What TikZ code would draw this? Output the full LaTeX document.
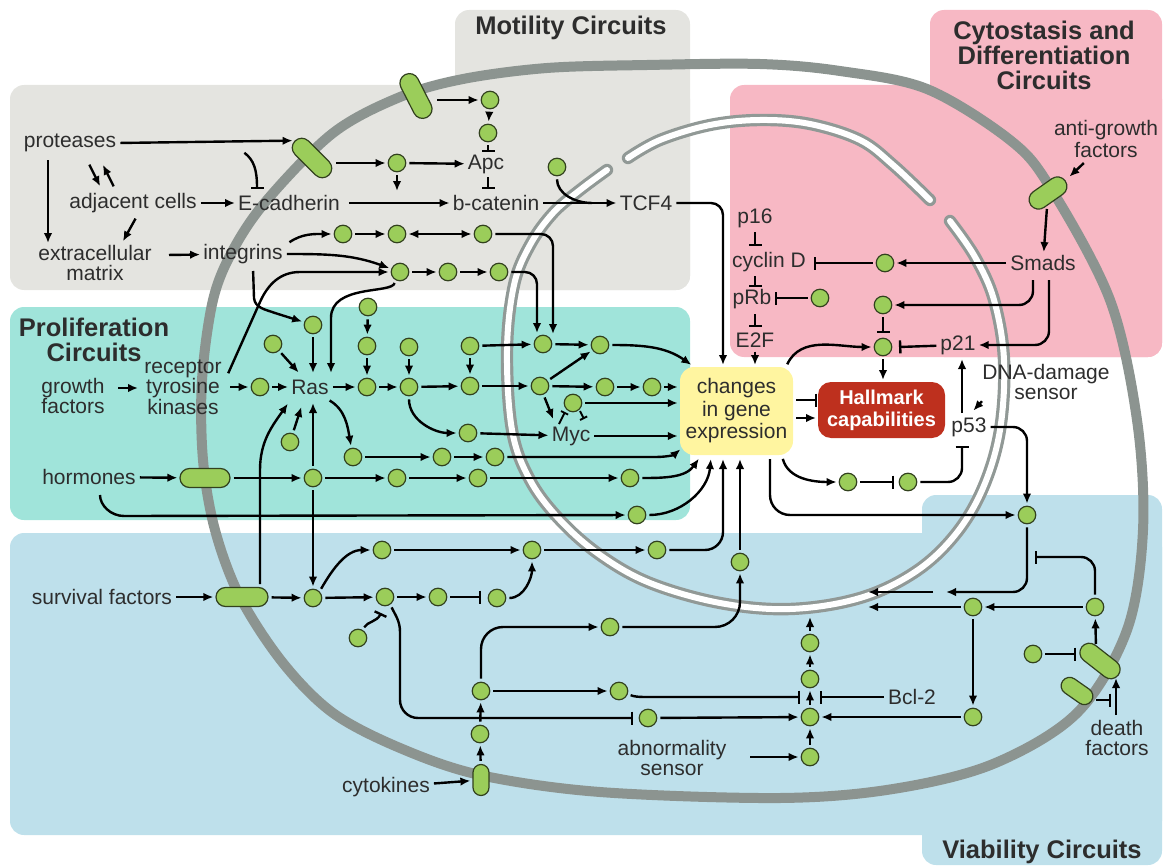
\documentclass[tikz,border=0pt]{standalone}
\usepackage{fontspec}
\setmainfont{Liberation Sans}
\usetikzlibrary{arrows.meta,calc}
\definecolor{bggray}{RGB}{228,228,224}
\definecolor{bgpink}{RGB}{247,184,196}
\definecolor{bgteal}{RGB}{160,228,218}
\definecolor{bgblue}{RGB}{190,224,235}
\definecolor{boxyel}{RGB}{255,245,160}
\definecolor{hallred}{RGB}{190,48,30}
\definecolor{memgray}{RGB}{140,148,144}
\definecolor{nucgray}{RGB}{145,153,150}
\definecolor{gfill}{RGB}{155,205,90}
\definecolor{gline}{RGB}{50,65,30}
\definecolor{txt}{RGB}{45,45,45}
\tikzset{
  gnode/.style={circle,fill=gfill,draw=gline,line width=1.2pt,minimum size=17.5pt,inner sep=0pt},
  capsule/.style={rectangle,fill=gfill,draw=gline,line width=1.2pt,inner sep=0pt},
  lbl/.style={text=txt,font=\fontsize{21}{19.5}\selectfont,inner sep=1pt,align=center},
  ttl/.style={text=txt,font=\fontsize{25.5}{25}\selectfont\bfseries,align=center,inner sep=0pt},
  arr/.style={draw=black,line width=2.4pt,-{Latex[length=10pt,width=8.5pt]},shorten >=2pt,shorten <=3pt},
  inhib/.style={draw=black,line width=2.4pt,-{Bar[width=13pt]},shorten <=3pt},
  inhs/.style={draw=black,line width=1.8pt,-{Bar[width=8pt]}},
  plain/.style={draw=black,line width=2.4pt,shorten <=3pt},
}
\begin{document}
\begin{tikzpicture}[x=1pt,y=-1pt]
\useasboundingbox (0,0) rectangle (1163,867);
% ---------- backgrounds
\fill[bggray,rounded corners=14pt] (10,85) rectangle (690,290);
\fill[bggray,rounded corners=14pt] (455,10) rectangle (690,290);
\fill[bgpink,rounded corners=14pt] (730,85) rectangle (1162,357);
\fill[bgpink,rounded corners=14pt] (930,10) rectangle (1162,357);
\fill[bgteal,rounded corners=14pt] (10,307) rectangle (690,520);
\fill[bgblue,rounded corners=14pt] (10,533) rectangle (1162,835);
\fill[bgblue,rounded corners=14pt] (922,495) rectangle (1162,865);
% ---------- cell membrane
\draw[memgray,line width=10pt] plot[smooth cycle,tension=0.55] coordinates {
 (213,300) (202,380) (203,460) (215,530) (240,597) (283,663) (333,713) (400,748)
 (480,775) (600,792) (780,798) (893,789) (993,764) (1077,713) (1127,630) (1143,530)
 (1137,420) (1110,300) (1050,187) (1010,140) (927,89) (840,71) (760,64) (647,65)
 (547,68) (463,79) (400,97) (333,133) (267,200) (233,250)};
% ---------- nucleus
\tikzset{nuc/.style={draw=nucgray,double=white,double distance=6pt,line width=3.2pt,line cap=round}}
\draw[nuc] plot[smooth,tension=0.6] coordinates {(628,158) (660,140) (710,125) (760,120) (810,124) (860,140) (893,165) (930,200)};
\draw[nuc] plot[smooth,tension=0.6] coordinates {(607,170) (580,190) (553,213) (530,245) (514,285) (507,350) (512,430) (530,480) (560,520) (600,555) (650,583) (720,603) (790,609) (860,598) (915,572) (955,535) (983,488) (1000,430) (1004,360) (994,300) (975,257) (950,221)};
% ---------- titles
\node[ttl] (tmot) at (571,28) {Motility Circuits};
\node[ttl] (tcyt) at (1044,55) {Cytostasis and\\Differentiation\\Circuits};
\node[ttl] (tpro) at (94,340) {Proliferation\\Circuits};
\node[ttl] (tvia) at (1042,852) {Viability Circuits};
% ---------- labels
\node[lbl] (prot) at (70,143) {proteases};
\node[lbl] (adj) at (133,203) {adjacent cells};
\node[lbl] (ecad) at (289,203) {E-cadherin};
\node[lbl] (ecm) at (95,263) {extracellular\\matrix};
\node[lbl] (integ) at (243,254) {integrins};
\node[lbl] (bcat) at (496,203) {b-catenin};
\node[lbl] (apc) at (486,164) {Apc};
\node[lbl] (tcf) at (646,203) {TCF4};
\node[lbl] (gf) at (73,396) {growth\\factors};
\node[lbl] (rtk) at (183,387) {receptor\\tyrosine\\kinases};
\node[lbl] (ras) at (310,387) {Ras};
\node[lbl] (myc) at (571,436) {Myc};
\node[lbl] (horm) at (89,477) {hormones};
\node[lbl,font=\fontsize{21}{22}\selectfont] (anti) at (1106,139) {anti-growth\\factors};
\node[lbl] (smads) at (1043,263) {Smads};
\node[lbl] (p16) at (755,218) {p16};
\node[lbl,anchor=west] (cycd) at (731,262) {cyclin D};
\node[lbl] (prb) at (752,299) {pRb};
\node[lbl] (e2f) at (755,340) {E2F};
\node[lbl] (p21) at (958,345) {p21};
\node[lbl] (p53) at (969,427) {p53};
\node[lbl] (dna) at (1046,382) {DNA-damage\\sensor};
\node[lbl] (surv) at (102,597) {survival factors};
\node[lbl] (cytok) at (386,787) {cytokines};
\node[lbl] (abn) at (672,758) {abnormality\\sensor};
\node[lbl] (bcl) at (912,697) {Bcl-2};
\node[lbl] (death) at (1117,738) {death\\factors};
% ---------- boxes
\node[fill=boxyel,rounded corners=14pt,minimum width=113pt,minimum height=88pt,text=txt,font=\fontsize{21}{22.5}\selectfont,align=center,inner sep=0pt] (box) at (736.5,411) {changes\\in gene\\expression};
\node[fill=hallred,rounded corners=13pt,minimum width=127pt,minimum height=56pt,text=white,font=\fontsize{20}{22}\selectfont\bfseries,align=center,inner sep=0pt] (hall) at (881.5,410) {Hallmark\\capabilities};
% ---------- capsules
\node[capsule,minimum width=48pt,minimum height=19pt,rounded corners=9.5pt,rotate=-45] (cap1) at (312,158) {};
\node[capsule,minimum width=48pt,minimum height=19pt,rounded corners=9.5pt,rotate=-63] (cap2) at (416,96) {};
\node[capsule,minimum width=50pt,minimum height=19pt,rounded corners=9.5pt] (cap3) at (205,478) {};
\node[capsule,minimum width=52pt,minimum height=19pt,rounded corners=9.5pt] (cap4) at (242,597) {};
\node[capsule,minimum width=42pt,minimum height=19pt,rounded corners=9.5pt,rotate=35] (cap5) at (1048,193) {};
\node[capsule,minimum width=16pt,minimum height=31pt,rounded corners=8pt] (cap6) at (481,780) {};
\node[capsule,minimum width=46pt,minimum height=19pt,rounded corners=9.5pt,rotate=-38] (cap7) at (1100,661) {};
\node[capsule,minimum width=35pt,minimum height=17pt,rounded corners=8.5pt,rotate=-35] (cap8) at (1077,691) {};
% ---------- green nodes
\foreach \n/\x/\y in {m1/490/100, m2/488/133, m3/397/163, m4/557/167, m5/343/234, m6/397/234, m7/483/234, m8/400/272, m9/448/272, m10/499/272,
 p1/313/325, p2/273/344, p3/260/387, p4/368/307, p5/367/346, p6/367/387, p7/409/347, p8/409/387, p9/470/346, p10/470/386, p11/543/344, p12/600/345, p13/540/386, p14/605/387, p15/652/387, p16n/573/403, p17/468/433, p18/290/442, p19/353/457, p20/442/457, p21n/495/457, p22/313/478, p23/397/478, p24/478/478, p25/630/478, p26/637/515,
 v1/313/598, v2/382/550, v3/532/550, v4/657/550, v5/385/597, v6/438/597, v7/497/598, v8/358/638, v9/610/627, v10/740/562, v11/481/691, v12/480/734, v13/619/691, v14/648/718, c1/810/643, c2/810/679, c3/810/717, c4/810/757, v15/973/607, v16/973/717, v17/1095/607, v18/1033/654, v19/1027/515, v20/848/482, v21/908/482,
 k1/885/263, k2/820/298, k3/883/305, k4/883/347}
 \node[gnode] (\n) at (\x,\y) {};
% ---------- motility connectors
\draw[arr] (prot.east) -- (cap1.west);
\draw[inhib] (242,151) .. controls (254,160) and (257,170) .. (257,189);
\draw[arr] (88,162) -- (101,188);
\draw[arr] (115,189) -- (102,163);
\draw[arr] (48,157) -- (48,245);
\draw[arr] (adj) -- (ecad);
\draw[arr] (137,216) -- (122,243);
\draw[arr] (166,255) -- (integ);
\draw[arr,shorten <=8pt] (ecad) -- (bcat);
\draw[arr] (434,100) -- (m1);
\draw[arr] (m1) -- (m2);
\draw[inhib] (m2) -- (488,152);
\draw[inhib] (488,174) -- (488,189);
\draw[arr] (333,163) -- (m3);
\draw[arr] (m3) -- (apc);
\draw[arr] (m3) -- (397,193);
\draw[plain] (m4) to[out=-90,in=180] (592,203);
\draw[arr] (bcat) -- (tcf);
\draw[arr,rounded corners=12pt] (tcf) -| (723,367);
\draw[arr] (287,244) to[out=35,in=180] (m5);
\draw[arr] (m5) -- (m6);
\draw[draw=black,line width=2.4pt,{Latex[length=10pt,width=8.5pt]}-{Latex[length=10pt,width=8.5pt]},shorten >=2pt,shorten <=2pt] (m6) -- (m7);
\draw[arr,rounded corners=12pt] (m7) -| (553,336);
\draw[arr,rounded corners=12pt] (m10) -| (537,335);
\draw[arr] (integ.east) to[out=0,in=160] (m8);
\draw[arr] (227,376) -- (260,302) to[out=66,in=180] (300,272) -- (m8);
\draw[arr] (m8) -- (m9);
\draw[arr] (m9) -- (m10);
\draw[arr] (m8.-120) .. controls (392,294) and (331,284) .. (331,318) -- (331,375);
\draw[arr] (253,268) -- (254,298) to[out=-85,in=160] (275,313) -- (p1);
% ---------- proliferation connectors
\draw[arr] (115,388) -- (140,388);
\draw[arr] (227,387) -- (p3);
\draw[arr] (p3) -- (ras);
\draw[arr] (p1) -- (313,375);
\draw[arr] (p2) -- (300,374);
\draw[arr] (ras) -- (p6);
\draw[arr] (p4) -- (p5);
\draw[arr] (p5) -- (p6);
\draw[arr] (p6) -- (p8);
\draw[arr] (p7) -- (p8);
\draw[arr] (p8) -- (p10);
\draw[arr] (p9) -- (p10);
\draw[arr] (p9) -- (p11);
\draw[arr] (p10) -- (p13);
\draw[arr] (p11) -- (p12);
\draw[arr] (p12) to[out=0,in=145] (693,366);
\draw[arr] (p13) -- (p12);
\draw[arr] (p13) -- (p14);
\draw[arr] (p14) -- (p15);
\draw[arr] (p15) -- (box.west |- p15);
\draw[arr] (p13) -- (554,421);
\draw[arr] (p16n) -- (box.west |- p16n);
\draw[inhs] (559,424) -- (565,412);
\draw[inhs] (580,411) -- (584,419);
\draw[arr] (p17) -- (myc);
\draw[arr] (myc) -- (box.west |- myc);
\draw[arr] (p8) to[out=-90,in=180] (p17);
\draw[arr] (327,399) to[out=-30,in=100] (p19);
\draw[arr] (p19) -- (p20);
\draw[arr] (p20) -- (p21n);
\draw[arr] (p21n) -- (655,457) to[out=0,in=-140] (682,448);
\draw[arr] (p18) -- (302,405);
\draw[arr] (260,587) -- (260,470) to[out=90,in=-125] (289,402);
\draw[arr] (p22) -- (313,401);
\draw[arr] (horm) -- (cap3);
\draw[arr] (cap3) -- (p22);
\draw[arr] (p22) -- (v1);
\draw[arr] (p22) -- (p23);
\draw[arr] (p23) -- (p24);
\draw[arr] (p24) -- (p25);
\draw[arr] (p25) to[out=0,in=-125] (700,457);
\draw[arr] (100,492) to[out=-90,in=180] (124,516) -- (p26);
\draw[arr] (p26) to[out=0,in=-95] (711,457);
\draw[arr,rounded corners=18pt] (v4) -| (723,457);
\draw[arr] (v10) -- (740,457);
% ---------- cytostasis connectors
\draw[arr] (e2f) -- (755,367);
\draw[inhib] (755,229) -- (755,246);
\draw[inhib] (755,273) -- (755,287);
\draw[inhib] (755,311) -- (755,327);
\draw[inhib] (k2) -- (775,298);
\draw[inhib] (k1) -- (814,263);
\draw[arr] (smads) -- (k1);
\draw[arr] (cap5) -- (smads);
\draw[arr] (1086,161) -- (1068,178);
\draw[arr,rounded corners=14pt] (1033,277) |- (k3);
\draw[arr,rounded corners=14pt] (1049,277) |- (p21);
\draw[inhib] (p21) -- (899,347);
\draw[inhib] (k3) -- (883,333);
\draw[arr] (k4) -- (883,382);
\draw[arr] (786,367) to[out=65,in=180] (k4);
\draw[inhib] (793,400) -- (817,400);
\draw[arr] (793,418) -- (818,418);
\draw[arr] (962,416) -- (962,357);
\draw[arr] (984,399) -- (972,412);
\draw[inhib,rounded corners=14pt] (v21) -| (962,446);
\draw[inhib] (v20) -- (894,482);
\draw[arr] (782,456) to[out=-75,in=180] (v20);
\draw[arr,rounded corners=14pt] (p53) -| (v19);
\draw[arr,rounded corners=20pt] (770,456) |- (v19);
% ---------- viability connectors
\draw[arr] (surv) -- (cap4);
\draw[arr] (cap4) -- (v1);
\draw[arr] (v1) -- (v5);
\draw[arr] (v1.north east) to[out=60,in=180] (v2);
\draw[arr] (v2) -- (v3);
\draw[arr] (v3) -- (v4);
\draw[arr] (v5) -- (v6);
\draw[inhib] (v6) -- (481,597);
\draw[arr] (v7) to[out=0,in=-90] (v3);
\draw[inhib] (v8) to[out=60,in=-115] (381,613);
\draw[inhib] (v5.-55) to[out=-65,in=90] (400,632) -- (400,700) to[out=-90,in=180] (418,718) -- (633,718);
\draw[arr] (v14) -- (c3);
\draw[arr] (cytok) -- (cap6);
\draw[arr] (cap6) -- (v12);
\draw[arr] (v12) -- (v11);
\draw[arr] (v11) -- (v13);
\draw[arr,rounded corners=22pt] (v11) |- (v9);
\draw[arr,rounded corners=25pt] (v9) -| (v10);
\draw[inhib] (v13.-20) to[out=-20,in=180] (645,697) -- (800,697);
\draw[inhib] (bcl) -- (820,697);
\draw[arr] (747,757) -- (c4);
\draw[arr] (c4) -- (c3);
\draw[arr] (c3) -- (c2);
\draw[arr] (c2) -- (c1);
\draw[arr] (c1) -- (810,615);
\draw[arr] (v16) -- (c3);
\draw[arr] (v15) -- (v16);
\draw[arr] (v17) -- (v15);
\draw[arr] (v15) -- (866,607);
\draw[arr,rounded corners=14pt] (v19) |- (944,592);
\draw[arr] (936,592) -- (866,592);
\draw[inhib,rounded corners=14pt] (v17) |- (1035,557);
\draw[inhib] (v18) -- (1076,654);
\draw[arr] (1096,647) -- (v17);
\draw[inhib] (1093,700) -- (1111,700);
\draw[arr] (1116,718) -- (1116,676);
\end{tikzpicture}
\end{document}
